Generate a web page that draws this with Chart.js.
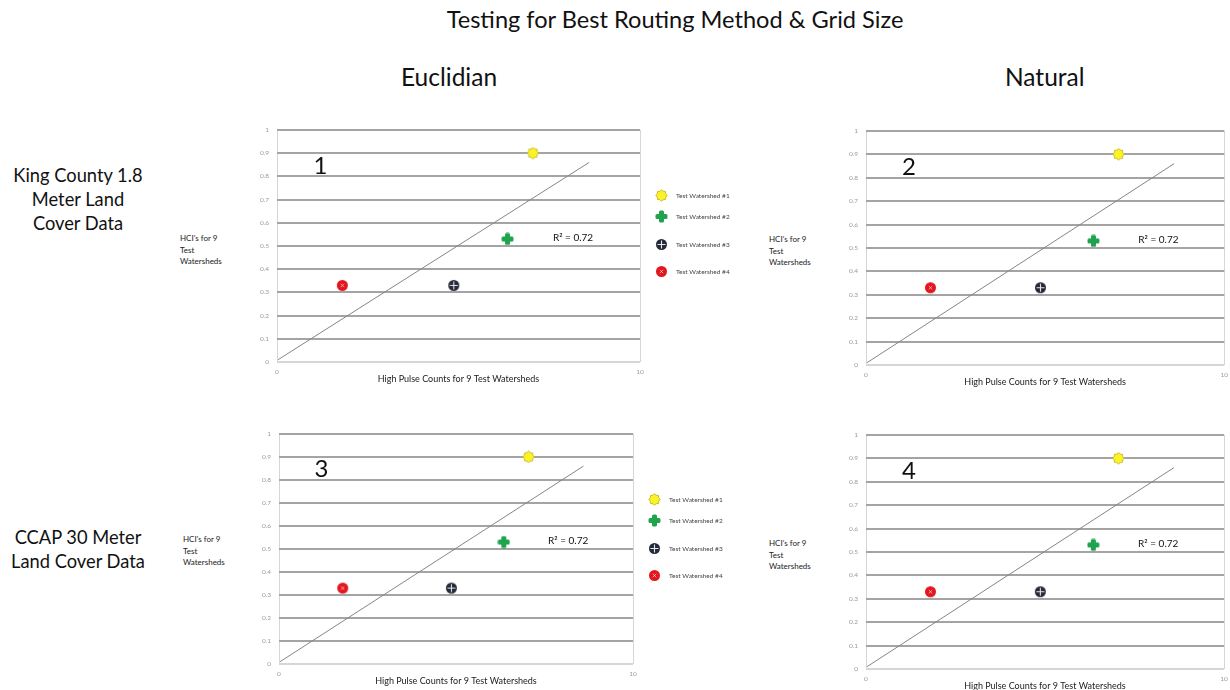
<!DOCTYPE html>
<html>
<head>
<meta charset="utf-8">
<script src="https://cdn.jsdelivr.net/npm/chart.js@4.4.1/dist/chart.umd.min.js"></script>
<style>
  html, body { margin: 0; padding: 0; background: #fff; }
  body { width: 1230px; height: 690px; position: relative; overflow: hidden; font-family: Lato, "Open Sans", sans-serif; color: #111; }
  .txt { position: absolute; white-space: nowrap; }
  #title { left: 0; width: 1350px; top: 5px; text-align: center; font-size: 23.6px; }
  .head { top: 62px; font-size: 24.5px; }
  .row { width: 156px; left: 0; text-align: center; font-size: 18.3px; line-height: 24px; }
  .ytitle { font-size: 8px; line-height: 11.5px; color: #222; }
  canvas { position: absolute; }
</style>
</head>
<body>
<div id="title" class="txt">Testing for Best Routing Method &amp; Grid Size</div>
<div class="txt head" style="left:401px">Euclidian</div>
<div class="txt head" style="left:1005px">Natural</div>
<div class="txt row" style="top:163px">King County 1.8<br>Meter Land<br>Cover Data</div>
<div class="txt row" style="top:525px">CCAP 30 Meter<br>Land Cover Data</div>
<div class="txt ytitle" style="left:180px;top:233px">HCI's for 9<br>Test<br>Watersheds</div>
<div class="txt ytitle" style="left:769px;top:234px">HCI's for 9<br>Test<br>Watersheds</div>
<div class="txt ytitle" style="left:183px;top:534px">HCI's for 9<br>Test<br>Watersheds</div>
<div class="txt ytitle" style="left:769px;top:538px">HCI's for 9<br>Test<br>Watersheds</div>

<canvas id="c1" width="505" height="270" style="left:245px;top:118px"></canvas>
<canvas id="c2" width="400" height="272" style="left:834px;top:119px"></canvas>
<canvas id="c3" width="496" height="268" style="left:247px;top:422px"></canvas>
<canvas id="c4" width="400" height="272" style="left:834px;top:423px"></canvas>

<script>
var watersheds = ["Test Watershed #1", "Test Watershed #2", "Test Watershed #3", "Test Watershed #4"];
var pulseCounts = [7.05, 6.35, 4.87, 1.8];
var hciValues = [0.9, 0.53, 0.33, 0.33];
var trendX = [0.03, 8.6];
var trendY = [0.01, 0.86];
var rSquared = 0.72;
var panelNumbers = ["1", "2", "3", "4"];

var FONT = "Lato, 'Open Sans', sans-serif";

// little marker images, one per watershed
function makeMarker(kind) {
  var c = document.createElement("canvas");
  c.width = 13;
  c.height = 13;
  var g = c.getContext("2d");
  if (kind == 0) {
    g.fillStyle = "#fbf32a";
    g.strokeStyle = "#c8bb1c";
    g.lineWidth = 1;
    g.beginPath();
    for (var i = 0; i < 16; i++) {
      var a = i * Math.PI / 8;
      var r = i % 2 ? 4.6 : 5.6;
      g.lineTo(6.5 + r * Math.cos(a), 6.5 + r * Math.sin(a));
    }
    g.closePath();
    g.fill();
    g.stroke();
  } else if (kind == 1) {
    g.fillStyle = "#1fa34c";
    g.beginPath();
    g.roundRect(4, 0.5, 5, 12, 1.5);
    g.roundRect(0.5, 4, 12, 5, 1.5);
    g.fill();
  } else if (kind == 2) {
    g.fillStyle = "#252a38";
    g.beginPath();
    g.arc(6.5, 6.5, 5.5, 0, Math.PI * 2);
    g.fill();
    g.strokeStyle = "#e4e7ee";
    g.lineWidth = 1.1;
    g.beginPath();
    g.moveTo(6.5, 2.5); g.lineTo(6.5, 10.5);
    g.moveTo(2.5, 6.5); g.lineTo(10.5, 6.5);
    g.stroke();
  } else {
    g.fillStyle = "#e3161d";
    g.beginPath();
    g.arc(6.5, 6.5, 5.5, 0, Math.PI * 2);
    g.fill();
    g.strokeStyle = "rgba(255,255,255,0.6)";
    g.lineWidth = 1;
    g.beginPath();
    g.moveTo(4.8, 4.8); g.lineTo(8.2, 8.2);
    g.moveTo(8.2, 4.8); g.lineTo(4.8, 8.2);
    g.stroke();
  }
  return c;
}

var markers = [0, 1, 2, 3].map(makeMarker);

// panel number, R^2 text and the small key on the left column
var panelText = {
  id: "panelText",
  afterDatasetsDraw: function(chart, args, opts) {
    var ctx = chart.ctx;
    var x = chart.scales.x, y = chart.scales.y;
    ctx.save();
    ctx.fillStyle = "#111";
    ctx.textBaseline = "middle";
    ctx.textAlign = "center";
    ctx.font = "24px " + FONT;
    ctx.fillText(opts.num, x.getPixelForValue(1.2), y.getPixelForValue(0.845));
    ctx.textAlign = "left";
    ctx.font = "10px " + FONT;
    ctx.fillText("R\u00b2 = " + rSquared.toFixed(2), x.getPixelForValue(7.6), y.getPixelForValue(0.535));
    if (opts.key) {
      var area = chart.chartArea;
      var rows = [66, 87, 115, 142];
      ctx.font = "6.5px " + FONT;
      ctx.fillStyle = "#444";
      for (var i = 0; i < watersheds.length; i++) {
        var cy = area.top + rows[i];
        ctx.drawImage(markers[i], Math.round(area.right + 21 - 6.5), Math.round(cy - 6.5));
        ctx.fillText(watersheds[i], area.right + 36, cy);
      }
    }
    ctx.restore();
  }
};

function buildChart(id, num, key, padRight) {
  var datasets = [{
    type: "line",
    data: trendX.map(function(v, i) { return {x: v, y: trendY[i]}; }),
    borderColor: "#858585",
    borderWidth: 1,
    pointRadius: 0,
    fill: false,
    order: 2
  }];
  for (var i = 0; i < watersheds.length; i++) {
    datasets.push({
      label: watersheds[i],
      data: [{x: pulseCounts[i], y: hciValues[i]}],
      pointStyle: markers[i],
      pointRadius: 6,
      order: 1
    });
  }
  return new Chart(id, {
    type: "scatter",
    data: {datasets: datasets},
    plugins: [panelText],
    options: {
      responsive: false,
      animation: false,
      events: [],
      layout: {padding: {left: 0, top: 4, right: padRight, bottom: 0}},
      plugins: {
        legend: {display: false},
        tooltip: {enabled: false},
        panelText: {num: num, key: key}
      },
      scales: {
        x: {
          type: "linear",
          min: 0,
          max: 10,
          ticks: {stepSize: 10, padding: 6, color: "#9a9a9a", font: {size: 6.5, family: FONT}},
          grid: {color: "#d6d6d6", lineWidth: 1, drawTicks: false},
          border: {display: false},
          title: {
            display: true,
            text: "High Pulse Counts for 9 Test Watersheds",
            color: "#222",
            font: {size: 9, family: FONT},
            padding: {top: 0, bottom: 4}
          },
          afterFit: function(axis) { axis.height = 26; }
        },
        y: {
          min: 0,
          max: 1,
          ticks: {
            stepSize: 0.1,
            padding: 8,
            color: "#9a9a9a",
            font: {size: 6.5, family: FONT},
            callback: function(v) { return String(+v.toFixed(1)); }
          },
          grid: {
            drawTicks: false,
            lineWidth: 2,
            color: function(c) { return c.tick && c.tick.value === 0 ? "#d6d6d6" : "#a4a4a4"; }
          },
          border: {display: false},
          afterFit: function(axis) { axis.width = 32; }
        }
      }
    }
  });
}

buildChart("c1", panelNumbers[0], true, 110);
buildChart("c2", panelNumbers[1], false, 8);
buildChart("c3", panelNumbers[2], true, 110);
buildChart("c4", panelNumbers[3], false, 10);
</script>
</body>
</html>
